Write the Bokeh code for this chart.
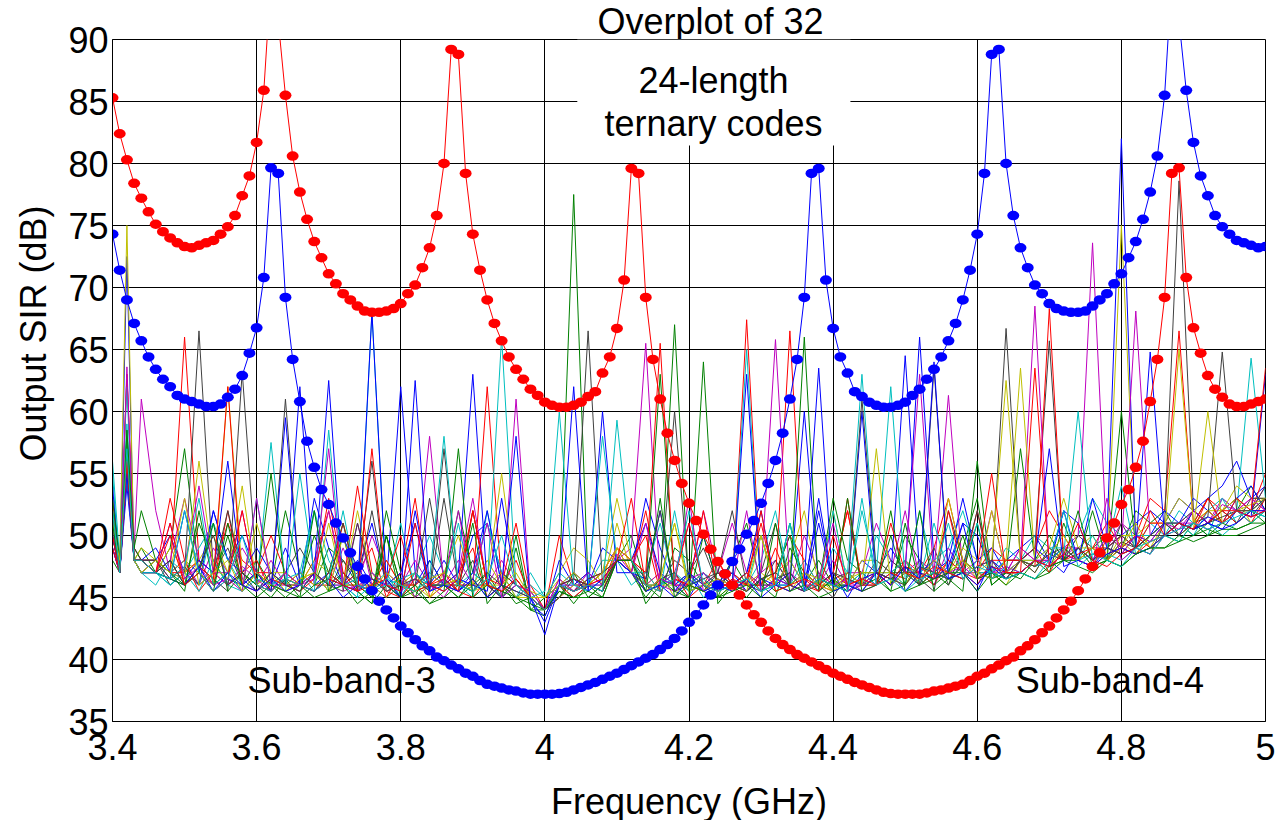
import numpy as np
from bokeh.plotting import figure
from bokeh.models import ColumnDataSource, FixedTicker, Label, BoxAnnotation, Title
from bokeh.embed import file_html
from bokeh.resources import INLINE

FONT = "Liberation Sans"

# ---------------- axes / ticks ----------------
x_ticks = [3.4, 3.6, 3.8, 4.0, 4.2, 4.4, 4.6, 4.8, 5.0]
x_tick_labels = ["3.4", "3.6", "3.8", "4", "4.2", "4.4", "4.6", "4.8", "5"]
y_ticks = [35, 40, 45, 50, 55, 60, 65, 70, 75, 80, 85, 90]

# ---------------- frequency grids (GHz) ----------------
freq_curve = [round(3.40 + 0.01 * i, 2) for i in range(161)]
freq_codes = [3.40, 3.41, 3.42, 3.43] + [round(3.44 + 0.02 * i, 2) for i in range(79)]

# ---------------- highlighted curves (dB), 3.40 .. 5.00 step 0.01 ----------------
red_sir = [
    85.3, 82.4, 80.3, 78.4, 77.2, 76.1, 75.1, 74.5, 74.0, 73.6,
    73.3, 73.2, 73.4, 73.6, 73.8, 74.3, 74.9, 75.8, 77.4, 79.0,
    81.7, 85.9, 95.0, 91.5, 85.5, 80.6, 77.7, 75.5, 73.7, 72.4,
    71.1, 70.3, 69.5, 69.0, 68.5, 68.1, 68.0, 68.0, 68.1, 68.3,
    68.7, 69.5, 70.2, 71.6, 73.2, 75.8, 80.0, 89.2, 88.8, 79.2,
    74.3, 71.4, 69.0, 67.1, 65.7, 64.4, 63.4, 62.6, 61.8, 61.3,
    60.75, 60.5, 60.35, 60.35, 60.5, 60.75, 61.2, 61.6, 63.1, 64.4,
    66.7, 70.6, 79.6, 79.2, 69.2, 64.2, 61.0, 58.25, 56.05, 54.2,
    52.6, 51.2, 50.1, 48.9, 47.9, 46.9, 46.0, 45.2, 44.4, 43.6,
    43.0, 42.3, 41.7, 41.2, 40.8, 40.4, 40.1, 39.8, 39.5, 39.2,
    38.9, 38.65, 38.4, 38.15, 37.95, 37.75, 37.55, 37.35, 37.25, 37.2,
    37.2, 37.2, 37.2, 37.3, 37.45, 37.55, 37.7, 37.85, 38.0, 38.3,
    38.65, 38.9, 39.25, 39.55, 39.9, 40.2, 40.7, 41.1, 41.6, 42.15,
    42.7, 43.35, 44.0, 44.7, 45.55, 46.5, 47.5, 48.6, 49.8, 51.0,
    52.5, 53.7, 55.5, 57.6, 60.8, 64.2, 69.2, 79.2, 79.65, 70.8,
    66.75, 64.7, 62.9, 61.8, 61.15, 60.6, 60.4, 60.4, 60.6, 60.8,
    61.0,
]
blue_sir = [
    74.3, 71.4, 69.0, 67.1, 65.7, 64.4, 63.4, 62.6, 62.0, 61.3,
    61.0, 60.8, 60.6, 60.4, 60.4, 60.6, 61.15, 61.8, 62.9, 64.7,
    66.75, 70.8, 79.65, 79.2, 69.2, 64.2, 60.8, 57.6, 55.5, 53.7,
    52.5, 51.0, 49.8, 48.6, 47.5, 46.5, 45.55, 44.7, 44.0, 43.35,
    42.7, 42.15, 41.6, 41.1, 40.7, 40.2, 39.9, 39.55, 39.25, 38.9,
    38.65, 38.3, 38.0, 37.85, 37.7, 37.55, 37.45, 37.3, 37.2, 37.2,
    37.2, 37.2, 37.25, 37.35, 37.55, 37.75, 37.95, 38.15, 38.4, 38.65,
    38.9, 39.2, 39.5, 39.8, 40.1, 40.4, 40.8, 41.2, 41.7, 42.3,
    43.0, 43.6, 44.4, 45.2, 46.0, 46.9, 47.9, 48.9, 50.1, 51.2,
    52.6, 54.2, 56.05, 58.25, 61.0, 64.2, 69.2, 79.2, 79.6, 70.6,
    66.7, 64.4, 63.1, 61.6, 61.2, 60.75, 60.5, 60.35, 60.35, 60.5,
    60.75, 61.3, 61.8, 62.6, 63.4, 64.4, 65.7, 67.1, 69.0, 71.4,
    74.3, 79.2, 88.8, 89.2, 80.0, 75.8, 73.2, 71.6, 70.2, 69.5,
    68.7, 68.3, 68.1, 68.0, 68.0, 68.1, 68.5, 69.0, 69.5, 70.3,
    71.1, 72.4, 73.7, 75.5, 77.7, 80.6, 85.5, 95.0, 91.5, 85.9,
    81.7, 79.0, 77.4, 75.8, 74.9, 74.3, 73.8, 73.6, 73.4, 73.2,
    73.3,
]

# ---------------- 32 overplotted ternary codes (dB) on freq_codes ----------------
code_01 = [49, 47, 72.5, 48, 47,
           48, 50, 47, 46, 52, 48, 50, 47, 46, 49,
           46, 53, 49, 46, 47, 51, 46, 62, 47, 46,
           48, 46, 50, 51, 47, 46, 45, 44, 48, 46,
           46, 49, 48, 47, 53, 49, 46, 47, 50, 46,
           46, 47, 50, 46, 48, 46, 52, 46, 46, 48,
           47, 49, 47, 66, 48, 47, 51, 50, 47, 48,
           49, 50, 48, 52, 51, 48, 49, 50, 51, 52,
           51, 53, 52, 53, 54, 56, 53, 54]
code_02 = [51, 47, 58, 48, 48,
           47, 49, 57, 47, 46, 50, 46, 48, 46, 52,
           47, 46, 49, 48, 46, 45, 50, 46, 45, 48,
           46, 52, 47, 46, 45, 49, 44, 43.5, 46, 77.5,
           46, 45, 48, 50, 46, 45, 49, 48, 46, 45,
           48, 51, 46, 45, 49, 47, 46, 53, 48, 47,
           46, 50, 46, 48, 47, 46, 49, 53, 46, 47,
           57, 48, 47, 51, 48, 49, 50, 49, 52, 51,
           52, 50, 51, 53, 51, 52, 54, 52]
code_03 = [53, 47, 63, 49, 48,
           48, 47, 66, 48, 47, 51, 48, 47, 50, 47,
           46, 48, 52, 46, 47, 49, 45, 47, 53, 45,
           46, 47, 49, 45, 46, 48, 45, 44, 50, 46,
           47, 46, 49, 47, 52, 46, 47, 45, 46, 48,
           46, 67.4, 46, 47, 50, 48, 46, 47, 52, 46,
           47, 46, 48, 47, 49, 53, 48, 47, 49, 48,
           48, 49, 52, 50, 48, 49, 51, 49, 50, 53,
           52, 66.5, 51, 53, 52, 53, 52, 55]
code_04 = [55, 47, 56, 48, 47,
           46, 48, 47, 49, 51, 46, 47, 46, 57.5, 46,
           47, 52, 48, 46, 45, 68, 46, 45, 47, 50,
           47, 46, 45, 52, 46, 45, 47, 45, 46, 47,
           46, 48, 48, 46, 47, 51, 46, 47, 45, 46,
           47, 46, 48, 52, 46, 47, 46, 49, 47, 46,
           50, 48, 47, 46, 48, 49, 52, 48, 47, 49,
           48, 50, 49, 48, 50, 53, 51, 50, 49, 51,
           50, 52, 51, 50, 53, 52, 64.3, 53]
code_05 = [50, 48, 55, 49, 61,
           52, 47, 48, 46, 49, 47, 52, 46, 48, 46,
           46, 47, 46, 49, 46, 50, 47, 46, 48, 46,
           45, 47, 53, 46, 48, 46, 45, 45, 46, 47,
           46, 47, 48, 49, 65.5, 46, 47, 51, 46, 47,
           46, 46, 47, 48, 46, 50, 47, 46, 47, 47,
           51, 48, 47, 47, 46, 49, 47, 47, 52, 47,
           49, 48, 48, 49, 50, 73.6, 49, 51, 50, 50,
           51, 51, 52, 51, 53, 52, 52, 54]
code_06 = [52, 48, 75, 48, 47,
           47, 49, 47, 48, 50, 47, 54, 46, 47, 47,
           46, 48, 47, 51, 47, 46, 48, 46, 45, 46,
           47, 46, 46, 48, 46, 45, 45, 45, 47, 49,
           48, 46, 51, 47, 46, 47, 45, 47, 46, 46,
           47, 46, 46, 47, 48, 46, 46, 52, 46, 48,
           48, 47, 46, 48, 47, 47, 49, 48, 47, 46,
           48, 47, 49, 48, 49, 50, 48, 75, 50, 51,
           51, 53, 52, 51, 52, 54, 53, 53]
code_07 = [50, 47, 57, 48, 48,
           48, 46, 47, 66.5, 47, 49, 46, 47, 46, 47,
           49, 47, 46, 47, 46, 52, 46, 46, 46, 47,
           46, 46, 48, 45, 47, 46, 45, 44, 46, 45,
           46, 47, 48, 47, 46, 46, 48, 47, 49, 46,
           46, 47, 46, 48, 46, 47, 46, 45, 47, 46,
           48, 47, 47, 46, 49, 46, 48, 47, 47, 66.7,
           48, 47, 49, 48, 50, 49, 48, 51, 49, 50,
           51, 78.6, 52, 51, 52, 53, 52, 54]
code_08 = [54, 47, 56, 48, 47,
           48, 47, 48, 47, 52, 48, 47, 49, 47, 46,
           62, 46, 47, 46, 48, 46, 45, 46, 46, 48,
           46, 47, 63, 46, 45, 46, 45, 43, 46, 46,
           47, 46, 48, 48, 51, 47, 46, 45, 47, 46,
           46, 47, 52, 46, 46, 60, 46, 47, 45, 47,
           46, 47, 48, 46, 47, 48, 53, 48, 49, 47,
           48, 49, 48, 47, 49, 48, 50, 82, 49, 50,
           52, 51, 53, 52, 51, 53, 54, 52]
code_09 = [48, 47, 58.5, 48, 49,
           47, 48, 46, 51, 48, 46, 47, 46, 55, 46,
           46, 50, 47, 46, 46, 45, 52, 47, 45, 46,
           46, 45, 46, 47, 45, 50, 44, 44, 45, 47,
           45, 46, 48, 47, 46, 63, 46, 45, 50, 46,
           48, 46, 46, 46, 51, 46, 48, 46, 46, 47,
           47, 46, 50, 48, 46, 47, 47, 51, 46, 47,
           47, 48, 50, 48, 48, 52, 48, 60, 49, 50,
           50, 51, 50, 51, 52, 51, 52, 51]
code_10 = [51, 47, 63, 48, 48,
           48, 47, 47, 48, 46, 52, 46, 47, 47, 46,
           47, 46, 46, 51, 46, 46, 48, 46, 46, 47,
           46, 46, 46, 62, 46, 45, 46, 44, 46, 45,
           46, 47, 49, 48, 47, 65.5, 46, 46, 47, 46,
           47, 46, 46, 49, 46, 47, 46, 47, 52, 46,
           47, 46, 47, 47, 46, 48, 47, 46, 48, 48,
           48, 49, 47, 49, 48, 49, 49, 50, 49, 51,
           51, 50, 52, 51, 52, 52, 51, 53]
code_11 = [56, 48, 62, 48, 47,
           47, 46, 47, 46, 51, 48, 46, 47, 46, 47,
           46, 52, 46, 46, 45, 46, 47, 45, 47, 46,
           46, 46, 47, 46, 66, 46, 45, 45, 47, 46,
           46, 46, 48, 47, 46, 46, 47, 46, 47, 46,
           46, 46, 50, 46, 46, 48, 46, 46, 47, 63,
           47, 47, 46, 52, 47, 47, 48, 47, 47, 48,
           48, 48, 49, 49, 48, 50, 48, 49, 50, 50,
           51, 51, 50, 52, 53, 51, 52, 53]
code_12 = [49, 47, 56, 49, 48,
           47, 48, 53, 48, 47, 47, 49, 47, 46, 46,
           46, 47, 46, 46, 51, 46, 46, 47, 45, 46,
           46, 48, 46, 46, 45, 61, 45, 44, 45, 46,
           46, 46, 48, 47, 46, 47, 46, 46, 52, 47,
           51, 47, 46, 46, 47, 46, 46, 48, 46, 46,
           47, 46, 47, 48, 47, 61.3, 47, 48, 47, 47,
           49, 48, 48, 49, 49, 48, 50, 49, 68.1, 50,
           50, 51, 51, 52, 51, 52, 53, 52]
code_13 = [50, 47, 55, 48, 49,
           48, 47, 48, 47, 46, 62, 47, 46, 47, 46,
           47, 46, 51, 46, 46, 46, 45, 46, 46, 45,
           47, 50, 46, 46, 46, 47, 45, 44, 45, 46,
           46, 47, 53, 48, 46, 46, 46, 47, 46, 45,
           46, 46, 47, 46, 48, 52, 46, 46, 47, 46,
           47, 47, 48, 46, 47, 47, 48, 47, 48, 62.5,
           48, 48, 49, 53, 49, 49, 48, 50, 50, 49,
           51, 50, 51, 52, 52, 53, 51, 52]
code_14 = [52, 47, 57, 48, 47,
           47, 48, 46, 47.5, 46.5, 45.5, 63.2, 47, 45.5, 46.5,
           46, 47, 45.5, 48, 46.5, 56, 45.5, 46, 47, 45.5,
           53, 46, 45.5, 46.5, 45, 46, 45.5, 44, 45, 46.5,
           66.5, 46, 48, 47, 45.5, 46.5, 47, 45.5, 46, 47,
           46, 45.5, 47, 51, 46, 47, 45.5, 46.5, 47, 46,
           46, 48, 47, 46.5, 45.5, 52, 48, 47, 46.5, 48,
           48, 49, 65.7, 48, 49, 48, 49, 50, 49, 50,
           51, 51, 52, 51, 52, 51, 53, 53]
code_15 = [49, 47, 54, 48, 48,
           49, 47, 46.5, 48, 47, 56, 46.5, 45.5, 47, 46,
           45.5, 47, 62.5, 46, 45.5, 46.5, 46, 47, 51, 45.5,
           46.5, 45.5, 47, 52, 46, 45.5, 45, 42, 46, 46.5,
           45.5, 60, 47, 47, 45.5, 46.5, 46, 47, 45.5, 46,
           47, 45.5, 46.5, 46, 47, 45.5, 51, 46, 45.5, 60,
           46, 47, 45.5, 47, 48, 46.5, 47, 45.5, 48, 47,
           48, 47.5, 48, 49, 48, 53, 49, 48.5, 50, 49.5,
           51, 50, 52, 51, 50.5, 52, 51.5, 63]
code_16 = [53, 48, 57, 49, 48,
           48, 47, 45.5, 52, 46, 47, 45.5, 47, 46, 45,
           46, 45, 45.5, 47, 45.5, 44.5, 50, 46, 45.5, 44.5,
           45, 46, 51, 44.5, 46, 45, 44, 45, 46, 44.5,
           46, 45.5, 48, 48, 44.5, 46, 67, 45.5, 46, 45,
           46, 45.5, 46.5, 47, 50, 45.5, 47, 45.5, 46, 45.5,
           47, 45.5, 51, 46, 47, 46.5, 45.5, 56, 46.5, 47,
           46.5, 48, 47.5, 48, 49, 47.5, 48, 49, 48.5, 49,
           50, 49.5, 51, 50, 51, 50.5, 51, 52]
code_17 = [50, 47, 55, 48, 47,
           47, 53, 48, 45.5, 47, 46, 47, 48, 45.5, 47,
           46, 45.5, 47, 46, 54, 47, 45.5, 45, 46.5, 46,
           47, 45.5, 45, 46.5, 46, 51, 45, 45, 46, 45.5,
           46.5, 47, 49, 48, 47, 45.5, 46.5, 46, 52, 45.5,
           46, 47, 45.5, 46.5, 66.5, 46, 45.5, 47, 46, 46.5,
           47, 46.5, 47.5, 47, 46.5, 48, 47, 52, 46.5, 48,
           48, 47.5, 68.3, 48, 48.5, 49, 48, 49, 50, 49,
           50, 51, 50.5, 52, 51, 53, 52, 52]
code_18 = [51, 47, 59, 48, 48,
           47, 46, 47, 45.5, 48, 46, 45.5, 53, 46, 46.5,
           47, 45.5, 58.5, 46, 45.5, 47, 46, 51, 45.5, 47,
           46, 45.5, 46.5, 51, 47, 45, 46, 45, 46, 45.5,
           46, 58, 48, 47, 45.5, 46, 46.5, 45.5, 46, 46.5,
           46, 65, 45.5, 46.5, 46, 47, 45.5, 52, 46, 47,
           46, 47, 48, 46.5, 51, 47, 46.5, 48, 47, 46.5,
           48, 47.5, 48, 49, 48, 48.5, 49, 54, 48.5, 50,
           50, 51, 50.5, 51, 50, 51, 52, 51.5]
code_19 = [52, 47, 63.6, 48, 48,
           48, 46.5, 47.5, 54, 47, 46, 47.5, 46.5, 45.5, 47,
           46, 47, 52, 46.5, 45.5, 47, 46, 45.5, 46.5, 45.5,
           46.5, 52, 45.5, 46.5, 45, 46, 45.5, 44, 46.5, 45.5,
           47, 46, 48.5, 47, 51, 46, 45.5, 46.5, 47, 45.5,
           46.5, 45.5, 47, 65.8, 46, 45.5, 47, 46, 46.5, 45.5,
           46, 47, 52, 46.5, 48, 47, 46.5, 47.5, 48, 46.5,
           48, 68.5, 47.5, 48.5, 49, 48, 49, 48.5, 50, 49.5,
           51, 50.5, 52, 51, 52.5, 52, 53, 52]
code_20 = [50, 47, 56, 48, 47,
           48, 47, 46.5, 56, 47.5, 46.5, 46, 51, 47, 45.5,
           46.5, 47, 45.5, 46, 52, 46.5, 45.5, 46, 47, 45,
           46, 46.5, 45.5, 46, 47, 45, 45.5, 45, 46.5, 45.5,
           46, 45.5, 49, 48, 45.5, 46.5, 51, 45.5, 46, 46.5,
           45.5, 46.5, 50, 45.5, 46, 47, 46.5, 45.5, 46.5, 47,
           47, 46.5, 46, 47.5, 46.5, 53, 48, 47, 46.5, 48,
           63.5, 48, 47.5, 49, 48, 49, 48, 49.5, 48.5, 50,
           50, 65, 51, 52, 51, 52, 52.5, 53]
code_21 = [51, 47, 57, 48, 48,
           48, 46.5, 47.5, 46, 47, 52, 47, 46, 45.5, 61,
           46, 45.5, 47, 51, 46, 45.5, 46.5, 45, 46, 53,
           46.5, 45.5, 52, 46, 45, 46.5, 45, 44, 46, 45.5,
           46.5, 47, 48, 48, 45.5, 46.5, 60, 46, 45.5, 47,
           52, 46, 45.5, 46.5, 47, 45.5, 46, 47, 46.5, 46,
           47, 46.5, 47.5, 46, 63.5, 47, 46.5, 47.5, 48, 46.5,
           48, 47.5, 48.5, 49, 48, 49, 48, 49.5, 49, 48.5,
           51, 50, 51, 51.5, 64.8, 52, 51.5, 53]
code_22 = [50, 47, 55, 48, 47,
           47, 46.5, 52, 47, 45.5, 46.5, 46, 47, 45.5, 59.5,
           46, 45.5, 46.5, 46, 45.5, 68, 46, 45, 52, 46,
           45.5, 46.5, 46, 45.5, 53, 46, 45, 44, 46, 45.5,
           46, 45.5, 48, 47, 46.5, 52, 45.5, 47, 46, 45.5,
           46, 63, 45.5, 46.5, 46, 45.5, 53, 46, 45.5, 46.5,
           47, 46.5, 64.5, 47, 46.5, 47.5, 51, 46.5, 47.5, 47,
           47, 48, 47.5, 52, 48, 47.5, 49, 48.5, 49, 64.8,
           50, 51, 50.5, 51.5, 51, 52, 51.5, 52]
code_23 = [52, 47, 58.5, 49, 52,
           48, 47, 46, 47, 51, 45.5, 47, 46, 45, 46.5,
           45, 46, 46.5, 50, 45.5, 44.5, 46, 45, 45.5, 46,
           46, 45, 46.5, 45, 46, 44.5, 45, 44, 45.5, 45,
           45, 46, 48, 47, 45, 46.5, 45.5, 45, 64, 44.5,
           46, 45, 46.5, 45.5, 46, 66, 45.5, 46.5, 45.5, 46,
           46.5, 45.5, 46, 52, 45.5, 46.5, 47, 45.5, 47, 46,
           47, 46.5, 47, 48, 47.5, 47, 48, 47.5, 48.5, 49,
           49, 50, 49.5, 50, 50.5, 50.5, 51, 51]
code_24 = [49, 47, 56, 48, 48,
           47, 50, 46, 47.5, 46.5, 62, 46, 45.5, 46.5, 46,
           45.5, 46.5, 53, 47, 45.5, 46, 46.5, 50, 45.5, 46,
           46.5, 45.5, 52, 46, 45.5, 46.5, 45, 44, 46, 46.5,
           46, 45.5, 48, 48, 50, 45.5, 46.5, 46, 45.5, 46.5,
           45.5, 46.5, 51, 46, 45.5, 46.5, 46, 45.5, 53, 46,
           46, 47, 46.5, 47.5, 46.5, 52, 47, 46.5, 47.5, 47,
           47, 63.5, 47.5, 48.5, 48, 47.5, 48.5, 49, 48.5, 49.5,
           50, 51, 50.5, 51, 52, 51, 52, 63.5]
code_25 = [50, 47, 55, 48, 47,
           47, 46.5, 47.5, 53, 46, 47, 45.5, 46.5, 46, 45.5,
           55, 47, 45.5, 46, 46.5, 45.5, 46, 46.5, 47, 45.5,
           46, 51, 45.5, 46.5, 45, 46, 45, 45.5, 60, 46,
           45.5, 46.5, 48, 47, 47, 45.5, 52, 46, 46.5, 45.5,
           46, 46.5, 45.5, 46, 51, 45.5, 46.5, 46, 45.5, 52,
           47, 62, 46.5, 47.5, 47, 46.5, 47.5, 51, 46.5, 47.5,
           47, 48, 47.5, 48.5, 60, 48, 48.5, 48, 49, 49.5,
           50, 49.5, 51, 50.5, 51, 52, 51, 52]
code_26 = [51, 47, 56, 48, 48,
           47, 51, 46.5, 47.5, 46, 46.5, 45.5, 53, 46, 45.5,
           46, 46.5, 57, 45.5, 46, 46.5, 45.5, 46, 46.5, 58,
           46, 45.5, 46.5, 51, 45, 46, 45, 44, 46.5, 45.5,
           46, 46.5, 48, 47, 45.5, 46.5, 46, 53, 45.5, 46.5,
           46, 52, 45.5, 46.5, 46, 45.5, 46.5, 51, 45.5, 46,
           47, 46, 47.5, 63, 46.5, 47, 47.5, 46.5, 47, 47.5,
           47, 48, 47.5, 48.5, 48, 47.5, 53, 48, 49, 48.5,
           50, 50.5, 51, 50.5, 51, 52, 51.5, 52]
code_27 = [51, 48, 56, 48, 47,
           48, 47, 53, 46, 47, 48, 45.5, 47, 46, 45.5,
           46.5, 47, 45.5, 50, 46, 45.5, 47, 46, 45.5, 46.5,
           47, 46, 45.5, 46.5, 55, 46, 45, 45, 46, 47,
           46, 47, 49, 47, 45.5, 46.5, 51, 46, 45.5, 46.5,
           46, 45.5, 50, 46, 45.5, 47, 46, 45.5, 47, 46,
           57, 46, 47, 46.5, 48, 47, 48, 46.5, 52, 47,
           48, 47.5, 48.5, 50, 48, 49, 48, 49, 51, 49,
           50, 51, 50.5, 60, 51, 52, 52, 53]
code_28 = [50, 47, 56, 48, 48,
           47, 48, 46, 47.5, 50, 46, 47, 45.5, 47, 46,
           45.5, 47, 46, 45.5, 51, 46.5, 45.5, 46, 46.5, 45.5,
           57, 46, 45.5, 47, 46, 45.5, 45, 44, 46, 46.5,
           46, 45.5, 48, 48, 46.5, 52, 45.5, 46, 46.5, 47,
           46, 45.5, 46.5, 47, 46, 45.5, 46.5, 46, 45.5, 61,
           47, 46.5, 46, 47.5, 47, 46.5, 47.5, 52, 47, 46.5,
           48, 47.5, 48.5, 48, 49, 48, 49, 48.5, 49, 50,
           50, 51, 50.5, 51, 51.5, 52, 52, 53]
code_29 = [50, 47, 55, 48, 48,
           47, 46.5, 46, 47.5, 45.5, 47, 46, 45.5, 46.5, 45.5,
           46, 45.5, 46.5, 45, 46, 45.5, 46.5, 45, 62.5, 45.5,
           46, 45.5, 46.5, 45, 46, 58, 44.5, 43.5, 46, 62,
           45.5, 46.5, 48, 47, 45.5, 46, 45, 46.5, 45.5, 46,
           45.5, 46.5, 45, 46, 45.5, 46.5, 63.5, 45.5, 46, 45.5,
           47, 46, 47.5, 46.5, 64, 46.5, 47, 46, 47.5, 46.5,
           47, 48, 57, 47.5, 48, 47.5, 48.5, 49, 48.5, 49,
           50, 51, 50.5, 51, 50.5, 51, 52, 52]
code_30 = [51, 47, 57, 48, 48,
           47, 46.5, 46, 47, 45.5, 51, 46, 45, 46, 45.5,
           45, 52, 45.5, 46, 44.5, 45.5, 50, 45, 46, 44.5,
           45.5, 57, 45, 46, 45.5, 45, 44.5, 44, 45.5, 45,
           45.5, 45, 48, 48, 45.5, 53, 45, 46, 45.5, 45,
           45.5, 46, 45, 51, 45.5, 46, 45, 45.5, 53, 45.5,
           46, 52, 45.5, 46, 46.5, 47, 50, 46.5, 47, 46.5,
           47, 46.5, 47.5, 48, 52, 47.5, 48, 47.5, 48.5, 49,
           49, 49.5, 50, 50.5, 50, 50, 50.5, 51]
code_31 = [50, 47, 56, 48, 48,
           47, 51, 46, 47, 45.5, 46.5, 52, 46, 45.5, 46.5,
           46, 45.5, 46.5, 46, 45.5, 57, 46, 45.5, 51, 46,
           45.5, 46.5, 52, 46, 45.5, 46.5, 45, 44, 46, 45.5,
           46, 46.5, 48, 53, 46, 45.5, 46.5, 51, 46, 45.5,
           46.5, 46, 52, 45.5, 46, 46.5, 45.5, 50, 46, 46.5,
           46, 51, 47, 46.5, 47.5, 47, 46.5, 47.5, 55, 47,
           47, 48, 47.5, 48.5, 51, 48, 47.5, 48.5, 49, 52,
           50, 51, 50.5, 53, 51, 52, 51.5, 52]
code_32 = [52, 47, 57, 48, 48,
           47, 46.5, 52, 47, 45.5, 46.5, 50, 46, 45.5, 46.5,
           46, 45.5, 46.5, 52, 46, 45.5, 46.5, 46, 45.5, 46.5,
           58, 46, 45.5, 46.5, 50, 46, 45, 44, 46, 45.5,
           46, 45.5, 59.3, 48, 46, 45.5, 46.5, 52, 46, 45.5,
           46, 46.5, 45.5, 46, 51, 45.5, 46.5, 46, 45.5, 53,
           46, 46.5, 45.5, 46.5, 47, 51, 46.5, 47.5, 47, 46.5,
           47, 46.5, 48, 52, 47.5, 48.5, 48, 47.5, 49, 48.5,
           50, 50.5, 51, 50.5, 51, 51.5, 52, 51.5]

codes = [code_01, code_02, code_03, code_04, code_05, code_06, code_07, code_08,
         code_09, code_10, code_11, code_12, code_13, code_14, code_15, code_16,
         code_17, code_18, code_19, code_20, code_21, code_22, code_23, code_24,
         code_25, code_26, code_27, code_28, code_29, code_30, code_31, code_32]

# MATLAB classic colour order
color_order = ["#0000ff", "#008000", "#ff0000", "#00bfbf", "#bf00bf", "#bfbf00", "#404040"]

assert len(red_sir) == len(freq_curve) and len(blue_sir) == len(freq_curve)
for i, c in enumerate(codes):
    assert len(c) == len(freq_codes), (i, len(c))

# ---------------- figure ----------------
p = figure(frame_width=1153, frame_height=682, x_range=(3.4, 5.0), y_range=(35, 90),
           output_backend="svg", toolbar_location=None,
           min_border_left=112, min_border_top=39, min_border_right=14, min_border_bottom=2)
p.background_fill_color = "white"
p.border_fill_color = "white"
p.outline_line_color = "black"
p.outline_line_width = 1

for ax in (p.xaxis[0], p.yaxis[0]):
    ax.axis_line_color = "black"
    ax.major_tick_in = 0
    ax.major_tick_out = 0
    ax.minor_tick_line_color = None
    ax.major_label_text_font = FONT
    ax.major_label_text_font_size = "36px"
    ax.major_label_text_color = "black"

p.xaxis.ticker = FixedTicker(ticks=x_ticks)
p.xaxis.major_label_overrides = {t: s for t, s in zip(x_ticks, x_tick_labels)}
p.xaxis.major_label_standoff = 12
p.xaxis.axis_label = "Frequency (GHz)"
p.xaxis.axis_label_text_font = FONT
p.xaxis.axis_label_text_font_size = "36px"
p.xaxis.axis_label_text_font_style = "normal"
p.xaxis.axis_label_text_color = "black"
p.xaxis.axis_label_standoff = 18

p.yaxis.ticker = FixedTicker(ticks=y_ticks)
p.yaxis.major_label_standoff = 4

for g in (p.xgrid[0], p.ygrid[0]):
    g.grid_line_color = "black"
    g.grid_line_alpha = 1.0
    g.grid_line_width = 1
p.xgrid.ticker = FixedTicker(ticks=x_ticks)
p.ygrid.ticker = FixedTicker(ticks=y_ticks)

# noisy code curves
src = ColumnDataSource(dict(
    xs=[freq_codes] * len(codes),
    ys=codes,
    color=[color_order[i % 7] for i in range(len(codes))],
))
p.multi_line("xs", "ys", source=src, line_color="color", line_width=1)

# highlighted curves
p.line(freq_curve, blue_sir, line_color="#0000ff", line_width=1)
p.ellipse(x=freq_curve, y=blue_sir, width=12, height=9.5, width_units="screen",
          height_units="screen", fill_color="#0000ff", line_color=None)
p.line(freq_curve, red_sir, line_color="#ff0000", line_width=1)
p.ellipse(x=freq_curve, y=red_sir, width=12, height=9.5, width_units="screen",
          height_units="screen", fill_color="#ff0000", line_color=None)

# title box (white patch that hides grid in the title area)
p.add_layout(BoxAnnotation(left=4.045, right=4.424, bottom=81.45, top=None,
                           fill_color="white", fill_alpha=1.0, line_color=None))
p.add_layout(Title(text="Overplot of 32", align="left", offset=485, vertical_align="bottom",
                   standoff=-5, text_font=FONT, text_font_size="36px", text_line_height=1.0,
                   text_font_style="normal", text_color="black"), "above")
p.add_layout(Label(x=4.234, y=86.69, text="24-length", text_align="center",
                   text_baseline="alphabetic", text_font=FONT, text_font_size="36px",
                   text_color="black"))
p.add_layout(Label(x=4.234, y=83.23, text="ternary codes", text_align="center",
                   text_baseline="alphabetic", text_font=FONT, text_font_size="36px",
                   text_color="black"))

# sub-band labels
p.add_layout(Label(x=3.718, y=38.3, text="Sub-band-3", text_align="center",
                   text_baseline="middle", text_font=FONT, text_font_size="36px",
                   text_color="black"))
p.add_layout(Label(x=4.784, y=38.3, text="Sub-band-4", text_align="center",
                   text_baseline="middle", text_font=FONT, text_font_size="36px",
                   text_color="black"))

# y-axis title
p.add_layout(Title(text="Output SIR (dB)", align="right", offset=166, vertical_align="middle",
                   standoff=22, text_font=FONT, text_font_size="36px",
                   text_font_style="normal", text_color="black"), "left")

open("out.html", "w").write(file_html(p, INLINE))
